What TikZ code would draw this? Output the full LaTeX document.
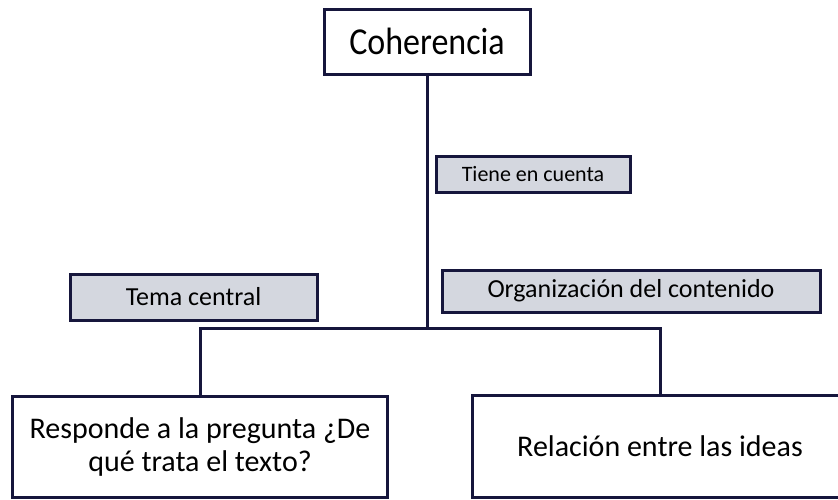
\documentclass[tikz,border=0pt]{standalone}
\usepackage{fontspec}
\setmainfont{Carlito}
\definecolor{navy}{RGB}{22,22,60}
\definecolor{lblfill}{RGB}{212,215,223}
\begin{document}
\begin{tikzpicture}[x=1pt,y=-1pt,
  bigbox/.style={draw=navy,line width=3pt,fill=white,inner sep=0pt,align=center,text=black},
  lbl/.style={draw=navy,line width=3pt,fill=lblfill,inner sep=0pt,align=center,text=black},
  conn/.style={draw=navy,line width=3pt}]
\useasboundingbox (0,0) rectangle (838,499);
\fill[white] (0,0) rectangle (838,499);
\coordinate (j) at (427,328);
\node[bigbox,minimum width=206pt,minimum height=65pt,font=\fontsize{34}{38}\selectfont] (coh) at (427,41.5) {\scalebox{1}[1.12]{Coherencia}};
\node[bigbox,minimum width=375pt,minimum height=101pt,font=\fontsize{30}{33}\selectfont] (resp) at (200,446.5) {Responde a la pregunta ¿De\\qué trata el texto?};
\node[bigbox,minimum width=376pt,minimum height=102pt,font=\fontsize{30}{37}\selectfont] (rel) at (660,446) {Relación entre las ideas};
\draw[conn] (coh.south) -- (j);
\draw[conn] (resp.north) |- (j) -| (rel.north);
\node[lbl,minimum width=194pt,minimum height=36pt,font=\fontsize{22}{26}\selectfont] (tiene) at (533,174.5) {Tiene en cuenta};
\node[lbl,minimum width=247pt,minimum height=46pt,font=\fontsize{26}{30}\selectfont] (tema) at (193.5,297) {Tema central};
\node[lbl,minimum width=378pt,minimum height=42pt,font=\fontsize{26}{30}\selectfont] (org) at (631,291) {Organización del contenido};
\end{tikzpicture}
\end{document}
